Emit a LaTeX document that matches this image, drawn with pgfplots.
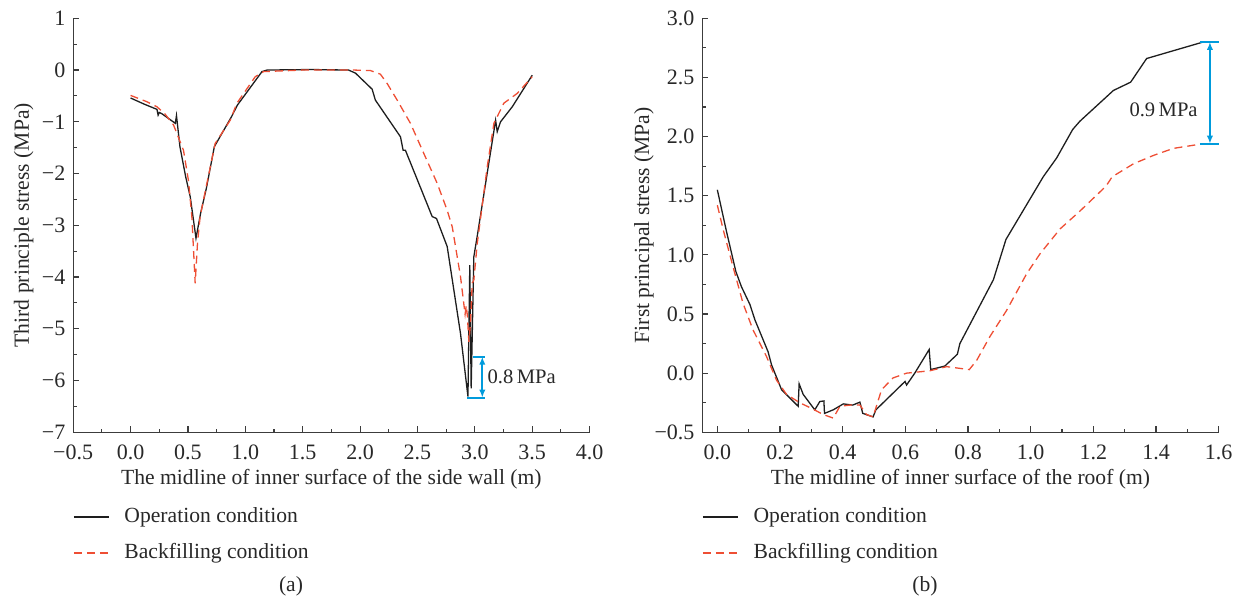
\documentclass[border=0pt]{standalone}
\usepackage{fontspec}
\setmainfont{Liberation Serif}
\usepackage{pgfplots}
\pgfplotsset{compat=1.18}
\usetikzlibrary{arrows.meta}
\definecolor{opc}{RGB}{30,30,30}
\definecolor{bfc}{RGB}{238,78,52}
\definecolor{annc}{RGB}{0,155,220}
\definecolor{axc}{RGB}{60,60,60}
\definecolor{txc}{RGB}{40,40,40}
\tikzset{annline/.style={annc, line width=0.9pt}}
\pgfplotsset{
  myax/.style={
    scale only axis, width=258.2pt, height=207pt,
    axis lines=left, axis line style={-, axc, line width=0.65pt},
    tick align=inside, minor tick num=1,
    major tick length=3pt, minor tick length=1.8pt,
    every tick/.style={axc, line width=0.55pt},
    tick label style={font=\fontsize{11}{13}\selectfont, text=txc},
    xticklabel style={yshift=-2.8pt},
    yticklabel style={xshift=-0.4pt},
    label style={font=\fontsize{10.8}{13}\selectfont, text=txc},
    clip=false,
    legend style={draw=none, fill=none, inner sep=0pt, outer sep=0pt,
      font=\fontsize{10.8}{13}\selectfont, text=txc,
      nodes={inner sep=0pt, anchor=base west}, row sep=8.9pt, column sep=7.5pt},
    legend cell align=left,
    legend image code/.code={\draw[##1] (0pt,0.28em) -- (17.5pt,0.28em);},
  },
  opline/.style={opc, line width=0.65pt},
  bfline/.style={bfc, line width=0.65pt, dash pattern=on 4pt off 2.5pt},
}
\begin{document}
\begin{tikzpicture}
\useasboundingbox (0,0) rectangle (621.5pt,302pt);
% ---------------- (a) ----------------
\begin{axis}[myax,
  at={(36.6pt,85.85pt)}, anchor=south west,
  xmin=-0.5, xmax=4.0, ymin=-7, ymax=1,
  xtick={-0.5,0,0.5,1,1.5,2,2.5,3,3.5,4},
  xticklabels={−0.5,0.0,0.5,1.0,1.5,2.0,2.5,3.0,3.5,4.0},
  ytick={-7,-6,-5,-4,-3,-2,-1,0,1},
  yticklabels={−7,−6,−5,−4,−3,−2,−1,0,1},
  xlabel={The midline of inner surface of the side wall (m)},
  ylabel={Third principle stress (MPa)},
  xlabel style={at={(axis description cs:0.5,-0.1125)}, anchor=center},
  ylabel style={at={(axis description cs:-0.0960,0.5)}, anchor=center},
  legend style={at={(axis description cs:0.0,-0.247)}, anchor=west},
]
\addplot[opline] coordinates {
(0.00,-0.54) (0.05,-0.59) (0.12,-0.66) (0.23,-0.76) (0.24,-0.87) (0.25,-0.82)
(0.27,-0.84) (0.39,-1.03) (0.40,-0.88) (0.43,-1.48) (0.48,-2.06) (0.52,-2.45)
(0.57,-3.25) (0.61,-2.77) (0.66,-2.29) (0.73,-1.48) (0.88,-0.90) (0.93,-0.68)
(1.145,-0.03) (1.19,0.0) (1.57,0.01) (1.90,0.0) (1.96,-0.06) (2.105,-0.37)
(2.133,-0.58) (2.352,-1.29) (2.375,-1.55) (2.395,-1.55) (2.628,-2.83) (2.666,-2.87)
(2.759,-3.41) (2.875,-5.09) (2.94,-6.31) (2.956,-3.77) (2.968,-6.15) (2.991,-3.61)
(3.02,-3.22) (3.181,-0.97) (3.195,-1.19) (3.224,-1.0) (3.326,-0.71) (3.50,-0.10)
};
\addlegendentry{Operation condition}
\addplot[bfline] coordinates {
(0.00,-0.49) (0.14,-0.61) (0.23,-0.71) (0.30,-0.85) (0.374,-1.06) (0.461,-1.55)
(0.504,-2.13) (0.534,-2.83) (0.563,-4.12) (0.583,-3.35) (0.606,-2.83) (0.665,-2.19)
(0.737,-1.42) (0.868,-0.97) (0.927,-0.64) (1.086,-0.13) (1.159,-0.03) (1.5,0.0)
(1.944,0.0) (2.09,-0.01) (2.177,-0.08) (2.236,-0.26) (2.323,-0.58) (2.439,-1.03)
(2.555,-1.61) (2.672,-2.19) (2.759,-2.71) (2.803,-3.03) (2.875,-3.99) (2.915,-4.72)
(2.925,-4.55) (2.935,-4.75) (2.948,-5.25) (2.962,-4.90) (2.977,-4.12) (2.991,-4.06)
(3.021,-3.35) (3.108,-1.87) (3.166,-1.03) (3.253,-0.64) (3.37,-0.45) (3.50,-0.13)
};
\addlegendentry{Backfilling condition}
\draw[annline] (axis cs:2.98,-5.54) -- (axis cs:3.09,-5.54);
\draw[annline] (axis cs:2.934,-6.33) -- (axis cs:3.087,-6.33);
\draw[annline, {Latex[length=4pt,width=3.2pt]}-{Latex[length=4pt,width=3.2pt]}] (axis cs:3.065,-5.54) -- (axis cs:3.065,-6.33);
\node[anchor=west, inner sep=0pt, font=\fontsize{10.3}{12}\selectfont, text=txc] at (axis cs:3.108,-5.93) {0.8\,MPa};
\end{axis}
% ---------------- (b) ----------------
\begin{axis}[myax,
  at={(351.15pt,85.85pt)}, anchor=south west,
  xmin=-0.048, xmax=1.6, ymin=-0.5, ymax=3.0,
  xtick={0,0.2,0.4,0.6,0.8,1.0,1.2,1.4,1.6},
  xticklabels={0.0,0.2,0.4,0.6,0.8,1.0,1.2,1.4,1.6},
  ytick={-0.5,0,0.5,1,1.5,2,2.5,3},
  yticklabels={−0.5,0.0,0.5,1.0,1.5,2.0,2.5,3.0},
  xlabel={The midline of inner surface of the roof (m)},
  ylabel={First principal stress (MPa)},
  xlabel style={at={(axis description cs:0.5,-0.1125)}, anchor=center},
  ylabel style={at={(axis description cs:-0.1130,0.5)}, anchor=center},
  legend style={at={(axis description cs:0.0,-0.247)}, anchor=west},
]
\addplot[opline] coordinates {
(0.0,1.55) (0.029,1.20) (0.059,0.86) (0.077,0.73) (0.104,0.58) (0.12,0.45)
(0.162,0.18) (0.173,0.07) (0.205,-0.14) (0.258,-0.28) (0.261,-0.09) (0.274,-0.18)
(0.311,-0.31) (0.327,-0.24) (0.34,-0.235) (0.342,-0.34) (0.37,-0.31) (0.402,-0.26)
(0.432,-0.27) (0.455,-0.245) (0.464,-0.34) (0.497,-0.37) (0.506,-0.31) (0.599,-0.07)
(0.604,-0.10) (0.63,0.0) (0.676,0.20) (0.681,0.03) (0.726,0.06) (0.766,0.16)
(0.774,0.25) (0.881,0.79) (0.921,1.13) (1.04,1.66) (1.083,1.82) (1.134,2.06)
(1.157,2.13) (1.264,2.39) (1.319,2.46) (1.37,2.66) (1.551,2.80)
};
\addlegendentry{Operation condition}
\addplot[bfline] coordinates {
(0.0,1.42) (0.019,1.21) (0.05,0.90) (0.082,0.59) (0.114,0.365) (0.157,0.14)
(0.189,-0.06) (0.221,-0.18) (0.263,-0.25) (0.306,-0.305) (0.338,-0.35) (0.37,-0.38)
(0.391,-0.28) (0.423,-0.27) (0.455,-0.27) (0.476,-0.35) (0.497,-0.37) (0.524,-0.14)
(0.561,-0.04) (0.604,0.0) (0.678,0.02) (0.732,0.055) (0.804,0.03) (0.828,0.11)
(0.87,0.31) (0.923,0.53) (0.987,0.84) (1.03,1.01) (1.094,1.22) (1.157,1.37)
(1.24,1.58) (1.26,1.66) (1.328,1.77) (1.391,1.84) (1.455,1.90) (1.551,1.94)
};
\addlegendentry{Backfilling condition}
\draw[annline] (axis cs:1.54,2.80) -- (axis cs:1.60,2.80);
\draw[annline] (axis cs:1.54,1.94) -- (axis cs:1.60,1.94);
\draw[annline, {Latex[length=4pt,width=3.2pt]}-{Latex[length=4pt,width=3.2pt]}] (axis cs:1.572,2.80) -- (axis cs:1.572,1.94);
\node[anchor=east, inner sep=0pt, font=\fontsize{10.3}{12}\selectfont, text=txc] at (axis cs:1.534,2.225) {0.9\,MPa};
\end{axis}
\node[font=\fontsize{10.8}{13}\selectfont, text=txc] at (145.5pt,9pt) {(a)};
\node[font=\fontsize{10.8}{13}\selectfont, text=txc] at (462.5pt,9pt) {(b)};
\end{tikzpicture}
\end{document}
